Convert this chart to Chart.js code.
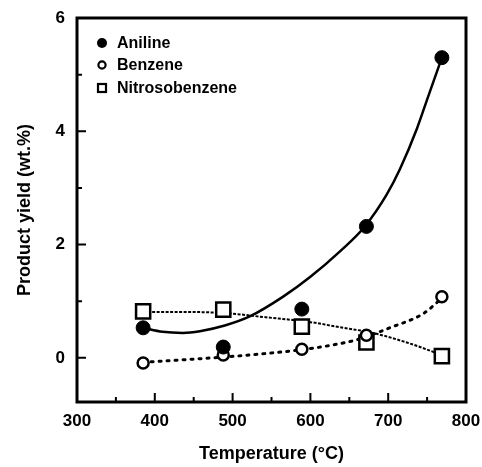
<!DOCTYPE html>
<html>
<head>
<meta charset="utf-8">
<script src="https://cdn.jsdelivr.net/npm/chart.js@4.4.0/dist/chart.umd.min.js"></script>
<style>
  html, body { margin: 0; padding: 0; background: #fff; }
</style>
</head>
<body>
<canvas id="chart" width="482" height="467"></canvas>
<script>
// measured points
var temps = [385, 488, 589, 672, 769];
var aniline = [0.53, 0.19, 0.86, 2.32, 5.3];
var benzene = [-0.09, 0.05, 0.15, 0.4, 1.08];
var nitrosobenzene = [0.82, 0.85, 0.55, 0.27, 0.03];

// fitted curves
var anilineFitT = [385, 410, 436, 458, 490, 522, 565, 600, 638, 670, 698, 715, 737, 751, 769];
var anilineFitY = [0.53, 0.46, 0.44, 0.47, 0.57, 0.73, 1.08, 1.43, 1.88, 2.32, 2.88, 3.33, 4.05, 4.6, 5.3];
var benzeneFitT = [385, 430, 475, 530, 587, 630, 660, 702, 745, 769];
var benzeneFitY = [-0.08, -0.04, 0.0, 0.06, 0.14, 0.23, 0.32, 0.53, 0.78, 1.05];
var nitroFitT = [385, 430, 490, 540, 600, 638, 680, 724, 769];
var nitroFitY = [0.81, 0.81, 0.79, 0.72, 0.63, 0.54, 0.44, 0.27, 0.05];

var xTicks = [300, 400, 500, 600, 700, 800];
var xMinor = [350, 450, 550, 650, 750];
var yTicks = [0, 2, 4, 6];
var yMinor = [1, 3, 5];

var legendNames = ['Aniline', 'Benzene', 'Nitrosobenzene'];

function pts(xs, ys) {
  var out = [];
  for (var i = 0; i < xs.length; i++) out.push({x: xs[i], y: ys[i]});
  return out;
}

var FONT = "'Liberation Sans', Arial, sans-serif";

var framePlugin = {
  id: 'frame',
  afterDraw: function(chart) {
    var ctx = chart.ctx, a = chart.chartArea;
    var xs = chart.scales.x, ys = chart.scales.y;
    ctx.save();
    ctx.strokeStyle = '#000';
    ctx.lineWidth = 3;
    ctx.strokeRect(a.left, a.top, a.right - a.left, a.bottom - a.top);
    ctx.lineWidth = 2;
    ctx.beginPath();
    xTicks.forEach(function(v) {
      var p = xs.getPixelForValue(v);
      ctx.moveTo(p, a.bottom); ctx.lineTo(p, a.bottom - 9);
    });
    xMinor.forEach(function(v) {
      var p = xs.getPixelForValue(v);
      ctx.moveTo(p, a.bottom); ctx.lineTo(p, a.bottom - 5);
    });
    yTicks.forEach(function(v) {
      var p = ys.getPixelForValue(v);
      ctx.moveTo(a.left, p); ctx.lineTo(a.left + 9, p);
    });
    yMinor.forEach(function(v) {
      var p = ys.getPixelForValue(v);
      ctx.moveTo(a.left, p); ctx.lineTo(a.left + 5, p);
    });
    ctx.stroke();

    // legend
    var lx = 102, ly = [43, 65, 88];
    ctx.fillStyle = '#000';
    ctx.lineWidth = 2.2;
    ctx.beginPath(); ctx.arc(lx, ly[0], 5, 0, Math.PI * 2); ctx.fill();
    ctx.beginPath(); ctx.arc(lx, ly[1], 3.6, 0, Math.PI * 2); ctx.stroke();
    ctx.strokeRect(lx - 4, ly[2] - 4, 8, 8);
    ctx.font = 'bold 16px ' + FONT;
    ctx.textBaseline = 'middle';
    for (var i = 0; i < legendNames.length; i++) {
      ctx.fillText(legendNames[i], 117, ly[i] + 1);
    }
    ctx.restore();
  }
};

var data = {
  datasets: [
    {
      label: 'Aniline', data: pts(temps, aniline), showLine: false,
      pointStyle: 'circle', pointRadius: 7, backgroundColor: '#000', borderColor: '#000', borderWidth: 1
    },
    {
      label: 'Benzene', data: pts(temps, benzene), showLine: false,
      pointStyle: 'circle', pointRadius: 5.5, backgroundColor: '#fff', borderColor: '#000', borderWidth: 2.5
    },
    {
      label: 'Nitrosobenzene', data: pts(temps, nitrosobenzene), showLine: false,
      pointStyle: 'rect', pointRadius: 10, backgroundColor: '#fff', borderColor: '#000', borderWidth: 2.5
    },
    {
      label: 'Aniline fit', data: pts(anilineFitT, anilineFitY), showLine: true,
      pointRadius: 0, borderColor: '#000', borderWidth: 2.5, cubicInterpolationMode: 'monotone'
    },
    {
      label: 'Benzene fit', data: pts(benzeneFitT, benzeneFitY), showLine: true,
      pointRadius: 0, borderColor: '#000', borderWidth: 3, borderDash: [2, 6], borderCapStyle: 'round',
      cubicInterpolationMode: 'monotone'
    },
    {
      label: 'Nitrosobenzene fit', data: pts(nitroFitT, nitroFitY), showLine: true,
      pointRadius: 0, borderColor: '#000', borderWidth: 2, borderDash: [3, 1.5], cubicInterpolationMode: 'monotone'
    }
  ]
};

var options = {
  responsive: false,
  animation: false,
  layout: { padding: { top: 18, right: 16, left: 0, bottom: 0 } },
  plugins: { legend: { display: false }, tooltip: { enabled: false } },
  scales: {
    x: {
      type: 'linear', min: 300, max: 800,
      afterBuildTicks: function(s) { s.ticks = xTicks.map(function(v) { return {value: v}; }); },
      afterFit: function(s) { s.height = 65; s.paddingLeft = 0; s.paddingRight = 0; },
      grid: { display: false, drawTicks: false },
      border: { display: false },
      ticks: { color: '#000', padding: 9, maxRotation: 0, font: { family: FONT, weight: 'bold', size: 17 } },
      title: { display: true, text: 'Temperature (°C)', color: '#000', padding: { top: 0, bottom: 2 },
               font: { family: FONT, weight: 'bold', size: 18 } }
    },
    y: {
      type: 'linear', min: -0.78, max: 6,
      afterBuildTicks: function(s) { s.ticks = yTicks.map(function(v) { return {value: v}; }); },
      afterFit: function(s) { s.width = 77; s.paddingTop = 0; s.paddingBottom = 0; },
      grid: { display: false, drawTicks: false },
      border: { display: false },
      ticks: { color: '#000', padding: 12, font: { family: FONT, weight: 'bold', size: 17 } },
      title: { display: true, text: 'Product yield (wt.%)', color: '#000', padding: { top: 14, bottom: 0 },
               font: { family: FONT, weight: 'bold', size: 18 } }
    }
  }
};

var ctx = document.getElementById('chart').getContext('2d');
var chart = new Chart(ctx, { type: 'scatter', data: data, options: options, plugins: [framePlugin] });
</script>
</body>
</html>
